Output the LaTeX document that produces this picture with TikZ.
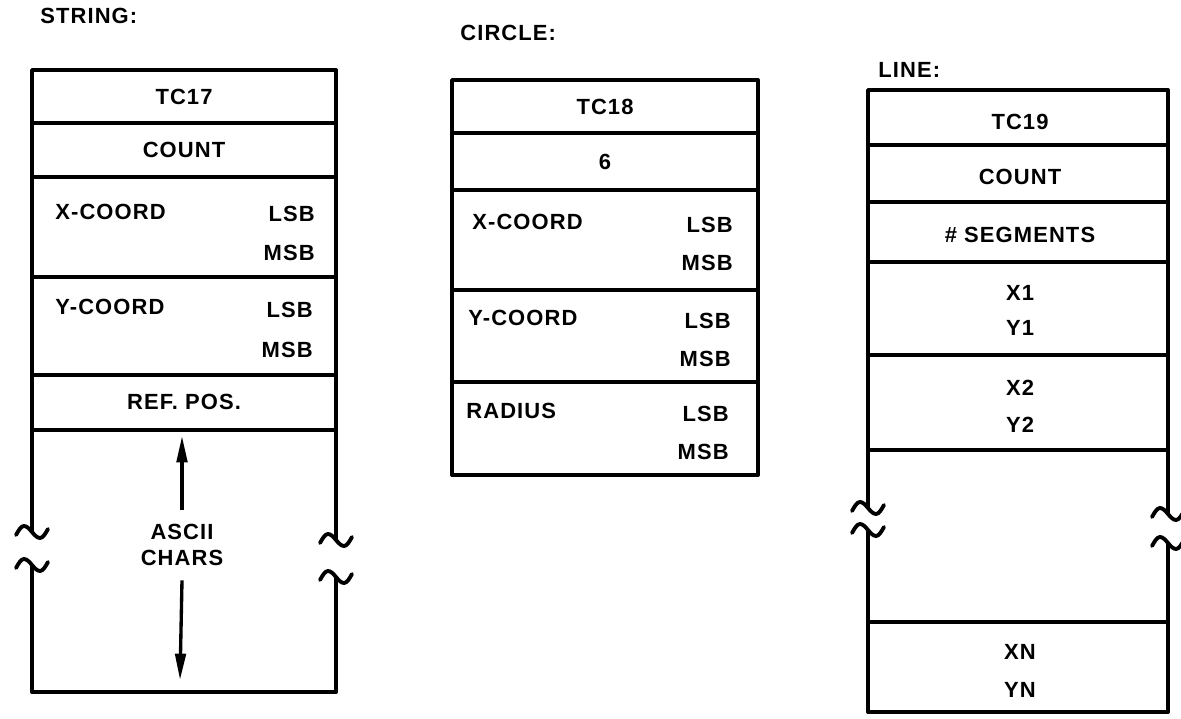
\documentclass[tikz,border=0pt]{standalone}
\usepackage{fontspec}
\setmainfont{Liberation Sans}[LetterSpace=5]
\usetikzlibrary{arrows.meta}
\begin{document}
\begin{tikzpicture}[x=0.02cm, y=-0.02cm,
    every node/.style={font=\bfseries\fontsize{12.5}{15}\selectfont, inner sep=0pt},
    wall/.style={line width=2.2pt, line join=round},
    sep/.style={line width=1.9pt},
    brk/.style={line width=2.2pt, line cap=round},
    squig/.pic={\draw[brk] (-16,3) sin (-8,-6) cos (0,0) sin (8,6) cos (16,-3);},
    arr/.style={line width=1.9pt, -{Triangle[length=15pt, width=6pt]}}]
    \useasboundingbox (0,0) rectangle (1181,719);

    % STRING
    \node[anchor=west] (strhd) at (40,16) {STRING:};
    \draw[wall] (32,532) -- (32,70) -- (336,70) -- (336,540);
    \draw[wall] (32,565) -- (32,692) -- (336,692) -- (336,577);
    \pic at (32,532) {squig};
    \pic at (32,565) {squig};
    \pic at (336,540) {squig};
    \pic at (336,577) {squig};
    \draw[sep] (32,123) -- (336,123);
    \draw[sep] (32,177) -- (336,177);
    \draw[sep] (32,277) -- (336,277);
    \draw[sep] (32,375) -- (336,375);
    \draw[sep] (32,430) -- (336,430);
    \node (stc) at (184,97) {TC17};
    \node (scnt) at (184,150) {COUNT};
    \node[anchor=west] (sx) at (55,212) {X-COORD};
    \node[anchor=east] (sxl) at (315,214) {LSB};
    \node[anchor=east] (sxm) at (315,253) {MSB};
    \node[anchor=west] (sy) at (55,307) {Y-COORD};
    \node[anchor=east] (syl) at (313,310) {LSB};
    \node[anchor=east] (sym) at (313,350) {MSB};
    \node (sref) at (184,402) {REF. POS.};
    \node[align=center] (sasc) at (182,545) {ASCII\\CHARS};
    \coordinate (stop) at (182,436);
    \coordinate (sbot) at (180,680);
    \draw[arr] (sasc.north) ++(0,-14) -- (stop);
    \draw[arr] (sasc.south) ++(0,14) -- (sbot);

    % CIRCLE
    \node[anchor=west] (chd) at (460,33) {CIRCLE:};
    \draw[wall] (452,80) rectangle (758,475);
    \draw[sep] (452,133) -- (758,133);
    \draw[sep] (452,190) -- (758,190);
    \draw[sep] (452,290) -- (758,290);
    \draw[sep] (452,382) -- (758,382);
    \node (ctc) at (605,107) {TC18};
    \node (csix) at (605,162) {6};
    \node[anchor=west] (cx) at (472,222) {X-COORD};
    \node[anchor=east] (cxl) at (733,225) {LSB};
    \node[anchor=east] (cxm) at (733,263) {MSB};
    \node[anchor=west] (cy) at (468,318) {Y-COORD};
    \node[anchor=east] (cyl) at (731,321) {LSB};
    \node[anchor=east] (cym) at (731,359) {MSB};
    \node[anchor=west] (crad) at (466,411) {RADIUS};
    \node[anchor=east] (crl) at (729,414) {LSB};
    \node[anchor=east] (crm) at (729,452) {MSB};

    % LINE
    \node[anchor=west] (lhd) at (878,70) {LINE:};
    \draw[wall] (868,508) -- (868,90) -- (1168,90) -- (1168,514);
    \draw[wall] (868,530) -- (868,712) -- (1168,712) -- (1168,543);
    \pic at (868,508) {squig};
    \pic at (868,530) {squig};
    \pic at (1168,514) {squig};
    \pic at (1168,543) {squig};
    \draw[sep] (868,145) -- (1168,145);
    \draw[sep] (868,202) -- (1168,202);
    \draw[sep] (868,262) -- (1168,262);
    \draw[sep] (868,355) -- (1168,355);
    \draw[sep] (868,450) -- (1168,450);
    \draw[sep] (868,622) -- (1168,622);
    \node (ltc) at (1020,122) {TC19};
    \node (lcnt) at (1020,177) {COUNT};
    \node (lseg) at (1020,235) {\# SEGMENTS};
    \node (lxa) at (1020,293) {X1};
    \node (lya) at (1020,328) {Y1};
    \node (lxb) at (1020,388) {X2};
    \node (lyb) at (1020,425) {Y2};
    \node (lxn) at (1020,652) {XN};
    \node (lyn) at (1020,690) {YN};
\end{tikzpicture}
\end{document}
